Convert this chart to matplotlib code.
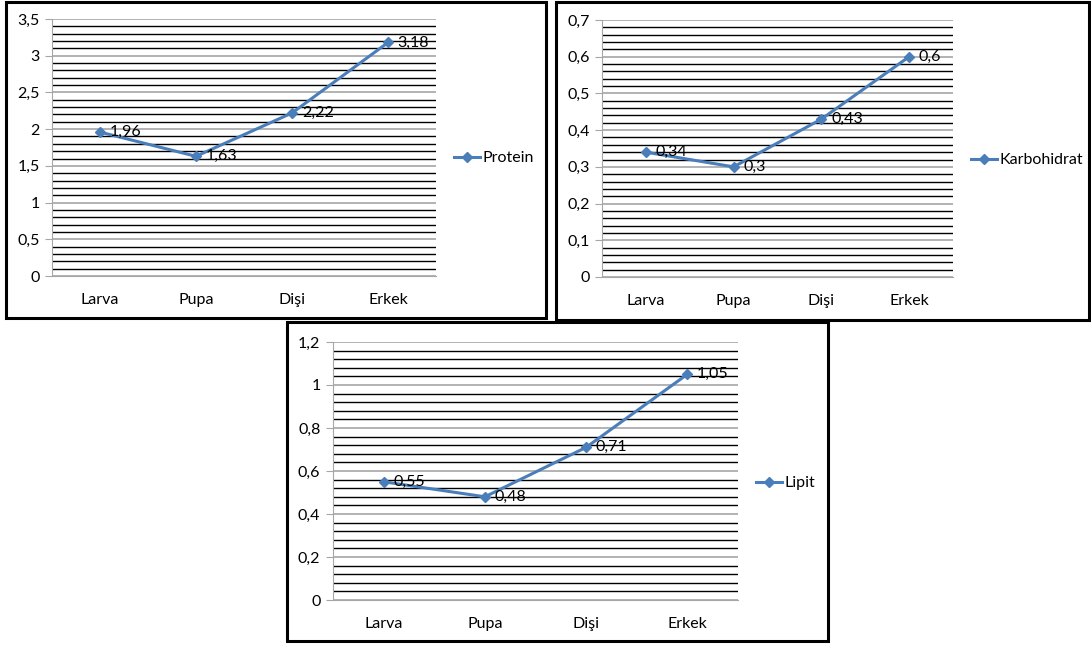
import matplotlib
matplotlib.use("Agg")
import matplotlib.pyplot as plt
from matplotlib.patches import Rectangle
from matplotlib.ticker import MultipleLocator, FuncFormatter

plt.rcParams["font.family"] = ["Lato", "DejaVu Sans"]

# Data
categories = ["Larva", "Pupa", "Dişi", "Erkek"]
protein = [1.96, 1.63, 2.22, 3.18]
karbohidrat = [0.34, 0.30, 0.43, 0.60]
lipit = [0.55, 0.48, 0.71, 1.05]

W, H = 1091, 647
fig = plt.figure(figsize=(W / 100, H / 100), dpi=100)

line_color = "#4A7EBB"
fs = 11.5


def px_axes(left, top, right, bottom):
    return fig.add_axes([left / W, 1 - bottom / H, (right - left) / W, (bottom - top) / H])


def frame(left, top, right, bottom):
    fig.patches.append(Rectangle((left / W, 1 - bottom / H), (right - left) / W, (bottom - top) / H,
                                 transform=fig.transFigure, fill=False, edgecolor="black",
                                 linewidth=2.2, zorder=10))


def comma(v, pos=None):
    s = f"{v:.2f}".rstrip("0").rstrip(".")
    return s.replace(".", ",")


def draw_panel(ax, values, name, ymax, major, legend_xy):
    x = list(range(len(categories)))
    ax.plot(x, values, color=line_color, linewidth=2.2, marker="D", markersize=5,
            label=name, zorder=3)
    for xi, v in zip(x, values):
        ax.annotate(comma(v), (xi, v), xytext=(7, 0), textcoords="offset points",
                    va="center", ha="left", fontsize=fs, color="black", zorder=4)
    ax.set_xlim(-0.5, len(categories) - 0.5)
    ax.set_ylim(0, ymax)
    ax.set_xticks(x)
    ax.set_xticklabels(categories)
    ax.yaxis.set_major_locator(MultipleLocator(major))
    ax.yaxis.set_minor_locator(MultipleLocator(major / 5))
    ax.yaxis.set_major_formatter(FuncFormatter(comma))
    ax.grid(True, axis="y", which="minor", color="black", linewidth=1.0, zorder=1)
    ax.grid(True, axis="y", which="major", color="#a6a6a6", linewidth=1.2, zorder=1)
    ax.set_axisbelow(True)
    for side in ["top", "right"]:
        ax.spines[side].set_visible(False)
    ax.spines["left"].set_color("#a6a6a6")
    ax.spines["bottom"].set_color("#a6a6a6")
    ax.tick_params(axis="y", which="major", length=5, color="#a6a6a6", pad=4, labelsize=fs)
    ax.tick_params(axis="y", which="minor", length=0)
    ax.tick_params(axis="x", length=0, pad=12, labelsize=fs)
    ax.legend(loc="center left", bbox_to_anchor=(legend_xy[0] / W, 1 - legend_xy[1] / H),
              bbox_transform=fig.transFigure, frameon=False, fontsize=fs,
              handlelength=1.6, handletextpad=0.2, borderpad=0, borderaxespad=0)


ax1 = px_axes(52, 19, 436, 276)
draw_panel(ax1, protein, "Protein", 3.5, 0.5, (454, 158))
frame(6, 2, 546, 318)

ax2 = px_axes(602, 20, 953, 277)
draw_panel(ax2, karbohidrat, "Karbohidrat", 0.7, 0.1, (971, 160))
frame(556, 2, 1089, 320)

ax3 = px_axes(333, 342, 738, 600)
draw_panel(ax3, lipit, "Lipit", 1.2, 0.2, (756, 483))
frame(287, 322, 828, 641)

fig.savefig("out.png", dpi=100)
